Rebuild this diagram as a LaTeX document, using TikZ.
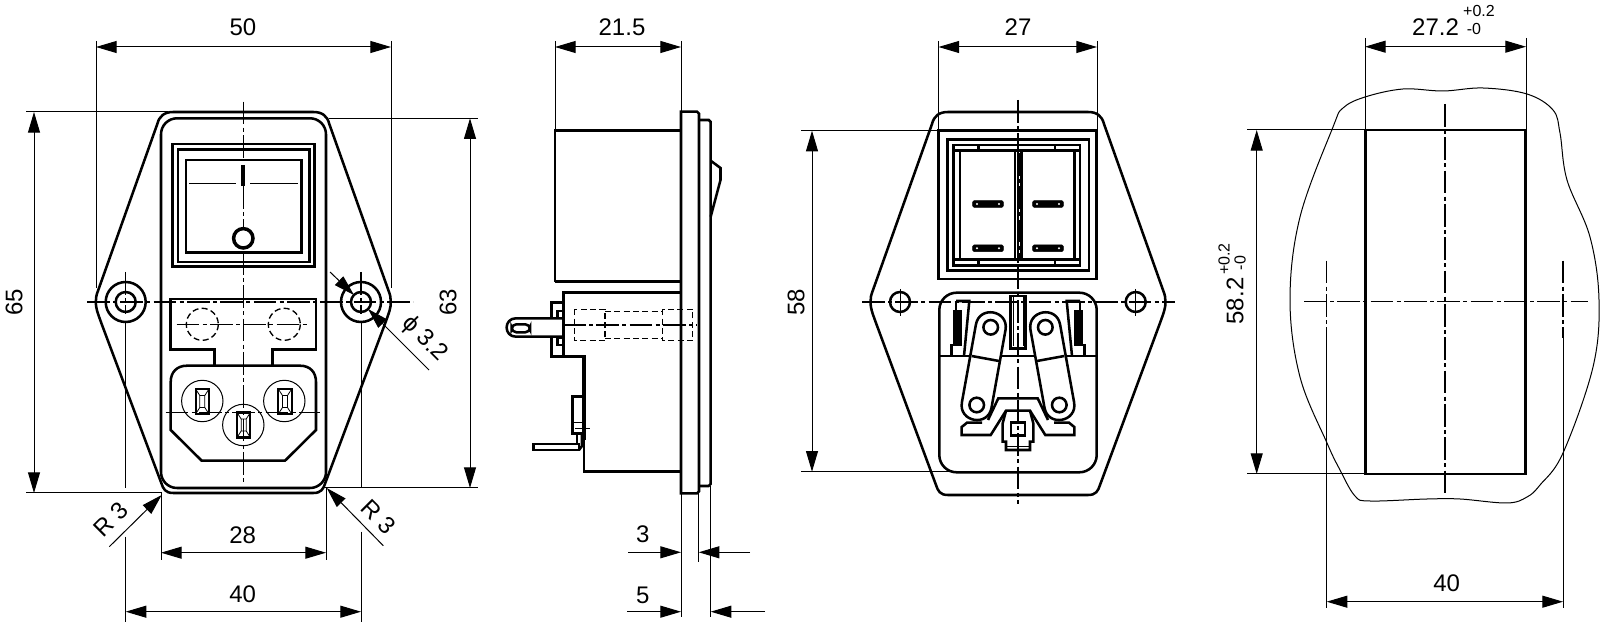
\documentclass[tikz,border=0pt]{standalone}
\usepackage{fontspec}
\setmainfont{Liberation Sans}
\usetikzlibrary{arrows.meta}
\tikzset{
  outl/.style={line width=1.9pt,line join=miter},
  thinl/.style={line width=0.75pt},
  hairl/.style={line width=0.6pt},
  cline/.style={line width=0.8pt,dash pattern=on 17pt off 2.5pt on 3pt off 2.5pt},
  hidl/.style={line width=1pt,dash pattern=on 4.5pt off 2.5pt},
  dimboth/.style={thinl,{Triangle[length=15.5pt,width=9pt]}-{Triangle[length=15.5pt,width=9pt]}},
  dimone/.style={thinl,-{Triangle[length=15.5pt,width=9pt]}},
  dimtxt/.style={inner sep=0pt,font=\fontsize{18}{20}\selectfont},
  toltxt/.style={inner sep=0pt,font=\fontsize{12}{14}\selectfont},
}
% flange outline: centre x, bottom y
\newcommand{\flange}[2]{
  \draw [outl,shift={(#1,0)}] (-70,112) -- (70,112) .. controls (79,112) and (84,116) .. (86,124) -- (145,290)
    .. controls (147,295) and (147.5,298) .. (147.5,302) .. controls (147.5,308) and (146,312) .. (142,323)
    -- (82,#2-10) .. controls (80,#2-4) and (78,#2) .. (70,#2) -- (-70,#2)
    .. controls (-78,#2) and (-80,#2-4) .. (-82,#2-10) -- (-142,323)
    .. controls (-146,312) and (-147.5,308) .. (-147.5,302) .. controls (-147.5,298) and (-147,295) .. (-145,290)
    -- (-86,124) .. controls (-84,116) and (-79,112) .. (-70,112) -- cycle;
}
% socket pin
\newcommand{\socketpin}[2]{
  \draw [line width=1.6pt,shift={(#1,#2)}] (-6.7,-12.5) rectangle (6.7,12.5);
  \draw [hairl,shift={(#1,#2)}] (-6.7,-12.5) -- (-2.5,-6) -- (-2.5,6) -- (-6.7,12.5) (6.7,-12.5) -- (2.5,-6) -- (2.5,6) -- (6.7,12.5) (-2.5,-6) -- (2.5,-6) (-2.5,6) -- (2.5,6);
}
\begin{document}
\begin{tikzpicture}[x=0.75pt,y=0.75pt,yscale=-1,xscale=1]
\useasboundingbox (0,0) rectangle (1600,641);

%Front view
\flange{243.3}{493}
\draw [outl,rounded corners=12pt] (161,118.3) rectangle (326,488);
\draw [outl] (172.3,144) rectangle (314.3,266.7);
\draw [outl] (178,149.3) rectangle (309.3,262);
\draw [outl] (186,160) rectangle (301.3,252.3);
\draw [line width=3pt] (243.3,165) -- (243.3,186);
\draw [thinl] (189,184) -- (236,184) (250,184) -- (298,184);
\draw [line width=2.6pt] (243.3,238.3) circle (9.7);
\foreach \hx in {125.7,361} {
  \draw [outl] (\hx,302) circle (20);
  \draw [outl] (\hx,302) circle (10);
  \draw [cline] (\hx,272) -- (\hx,314);
  \draw [thinl] (\hx,323) -- (\hx,488);
}
\draw [cline] (87,302) -- (413,302);
\draw [cline] (243.3,101.7) -- (243.3,160);
\draw [cline] (243.3,186) -- (243.3,227);
\draw [cline] (243.3,252) -- (243.3,483);
% fuse holder
\draw [outl] (214.3,365.7) -- (214.3,349.3) -- (170.7,349.3) -- (170.7,299) -- (316,299) -- (316,349.3) -- (272.3,349.3) -- (272.3,365.7);
\draw [hidl] (202.3,324.3) circle (16);
\draw [hidl] (284.3,324.3) circle (16);
\draw [cline] (176.7,324.3) -- (309,324.3);
% socket
\draw [outl] (201.7,460.7) -- (170.7,430) -- (170.7,382) .. controls (170.7,372) and (177,365.7) .. (187,365.7) -- (300,365.7)
  .. controls (310,365.7) and (316,372) .. (316,382) -- (316,430) -- (285,460.7) -- cycle;
\draw [thinl] (202.3,401) circle (20.7) (284.3,401) circle (20.7) (243.3,425) circle (20.7);
\socketpin{202.3}{401.5}
\socketpin{243.7}{425}
\socketpin{285}{401.5}
\draw [cline] (165.7,412.7) -- (320,412.7);

%Front view dimensions
\draw [thinl] (96,41) -- (96,288) (391,41) -- (391,288);
\draw [dimboth] (96,47) -- (391,47);
\node [dimtxt] (lab50) at (243,27.5) {50};
\draw [thinl] (26,111.7) -- (168,111.7) (26,493) -- (162,493);
\draw [dimboth] (34,112) -- (34,493);
\node [dimtxt,rotate=90] (lab65) at (14,302) {65};
\draw [thinl] (329,118.3) -- (478,118.3) (325,488) -- (478,488);
\draw [dimboth] (470,118.3) -- (470,488);
\node [dimtxt,rotate=90] (lab63) at (448,302) {63};
\draw [thinl] (161,493) -- (161,560) (326,488) -- (326,560);
\draw [dimboth] (161,552.7) -- (326,552.7);
\node [dimtxt] (lab28) at (242.7,535) {28};
\draw [thinl] (125.7,536.7) -- (125.7,621.7) (361,531.7) -- (361,621.7);
\draw [dimboth] (125.7,611.7) -- (361,611.7);
\node [dimtxt] (lab40a) at (242.7,594) {40};
\draw [dimone] (109.3,546.7) -- (161.7,495);
\node [dimtxt,rotate=45] (labr3a) at (110.7,519.3) {R 3};
\draw [dimone] (383.3,545.7) -- (326.7,488);
\node [dimtxt,rotate=-45] (labr3b) at (378.3,516.7) {R 3};
\draw [dimone] (330,272) -- (354,295);
\draw [dimone] (429,370) -- (368,309);
\node [dimtxt,rotate=-45] (labphi) at (424.6,339) {ϕ 3.2};

%Side view
\draw [outl] (555,281.7) -- (555,130.7) -- (681,130.7) (555,281.7) -- (681,281.7);
\draw [outl] (681,493.3) -- (681,111.7) -- (697,111.7) -- (699,113.7) -- (699,491.3) -- (697,493.3) -- cycle;
\draw [outl] (699,120) -- (708.7,120) -- (710.7,122) -- (710.7,484) -- (708.7,486) -- (699,486);
\draw [outl] (710.7,160.7) -- (720.5,168) -- (720.5,180) -- (710.7,216.7);
\draw [outl] (681,292.3) -- (563.3,292.3) -- (563.3,356.7);
\draw [line width=2.6pt] (561,356.7) -- (584,356.7) -- (584,440);
\draw [outl] (584,440) -- (584,471.7) -- (681,471.7);
% terminal
\draw [outl] (563,318.3) -- (516,318.3) .. controls (503.5,318.3) and (503.5,336.7) .. (516,336.7) -- (563,336.7);
\draw [outl,rounded corners=3.5pt] (511.7,324.3) rectangle (530,332.3);
\draw [outl] (563,302.7) -- (551.7,302.7) -- (551.7,318.3) (551.7,336.7) -- (551.7,356.7) -- (563,356.7);
\draw [outl] (557.7,311) rectangle (563,318);
\draw [outl] (557.7,338) rectangle (563,345);
% fuse
\draw [hidl] (574.3,309.3) rectangle (605,340.7);
\draw [hidl] (662.3,309.3) rectangle (692.7,340.7);
\draw [hidl] (605,311.7) -- (662.3,311.7) (605,338.3) -- (662.3,338.3);
\draw [cline] (563,325) -- (696.7,325);
% lower tab
\draw [outl] (584,396.7) -- (572.3,396.7) -- (572.3,433.3) -- (584,433.3);
\draw [thinl] (572.3,422.7) -- (584,422.7) (575,429) -- (590,429);
\draw [outl] (533.3,444) rectangle (579,450);
\draw [outl] (579,450) -- (582,446) -- (582,433);
\draw [outl] (577,444) -- (577,433);

%Side view dimensions
\draw [thinl] (555,41) -- (555,130) (681,41) -- (681,111);
\draw [dimboth] (555,47) -- (681,47);
\node [dimtxt] (lab215) at (622,27.5) {21.5};
\draw [thinl] (681,493) -- (681,617) (698.7,493) -- (698.7,562) (710.7,486) -- (710.7,617);
\draw [dimone] (628,552.3) -- (681,552.3);
\draw [dimone] (750,552.3) -- (698.7,552.3);
\node [dimtxt] (lab3) at (642.7,534) {3};
\draw [dimone] (627,611.7) -- (681,611.7);
\draw [dimone] (765,611.7) -- (710.7,611.7);
\node [dimtxt] (lab5) at (642.7,595) {5};

%Rear view
\flange{1018}{495}
\draw [outl] (938.3,130.7) rectangle (1096.7,279);
\draw [outl] (947.7,139.3) rectangle (1089,270.7);
\draw [outl] (953.3,145) rectangle (1080,265.7);
\draw [outl] (960,150.7) rectangle (1074.3,259.3);
\foreach \tx in {953.3,1055} {
  \draw [outl] (\tx,145) rectangle (\tx+25,150.7);
  \draw [outl] (\tx,259.3) rectangle (\tx+25,265.7);
}
\draw [outl] (1015,150.7) -- (1015,259.3) (1021.7,150.7) -- (1021.7,259.3);
\draw [line width=2.4pt,dash pattern=on 17pt off 2.5pt on 3pt off 2.5pt] (1018.3,153) -- (1018.3,258);
\foreach \cx in {988,1048} {
  \foreach \cy in {204,248.3} {
    \draw [fill=black,rounded corners=1pt] (\cx-15.3,\cy-3.3) rectangle (\cx+15.3,\cy+3.3);
    \fill [white] (\cx-11,\cy) circle (1.1) (\cx+11,\cy) circle (1.1);
  }
}
\draw [outl,rounded corners=13pt] (939.3,292.7) rectangle (1096.7,472.3);
\draw [outl] (939.3,356) -- (1096.7,356);
\draw [outl] (900,302) circle (10) (1135.7,302) circle (10);
\draw [thinl] (900,289) -- (900,316) (1135.7,289) -- (1135.7,316);
\foreach \s in {-1,1} {
  \begin{scope}[shift={(1018,0)},xscale=\s]
  % contact blade
  \draw [outl] (62,301) -- (48.7,301) -- (54,356);
  \draw [outl] (62,301) -- (62,310);
  \draw [fill=black] (56.5,310) rectangle (64.5,345);
  \draw [outl] (56.5,345) -- (66.3,345) -- (66.3,356);
  % lever
  \draw [outl,fill=white] (12.5,330) .. controls (9,310.3) and (38.6,304.9) .. (42.1,324.6) -- (56.1,402.3)
    .. controls (59.6,422) and (30,427.4) .. (26.5,407.7) -- cycle;
  \draw [outl] (27.3,327.3) circle (7.3) (41.3,405) circle (7.3);
  \draw [outl] (46.3,356) -- (19,361);
  % latch bracket
  \draw [outl] (0,398.3) -- (19.7,398.3) -- (30,420);
  \draw [outl] (0,410.7) -- (12,410.7) -- (27.3,435) -- (56.3,435) -- (56.3,427) -- (51,422.7) -- (36,422.7);
  \draw [outl] (12,410.7) -- (15.3,423.3) -- (15.3,441.7) -- (12,441.7) -- (12,450) -- (0,450);
  \draw [thinl] (0,447) -- (12,447);
  \draw [outl] (0,296) -- (7.3,296) -- (7.3,348.3) -- (0,348.3);
  \draw [thinl] (5,296) -- (5,346);
  \draw [outl] (0,422.3) -- (7,422.3) -- (7,435.7) -- (0,435.7);
  \end{scope}
}
\draw [cline] (862,302) -- (1175,302);
\draw [cline] (1018,100) -- (1018,504);

%Rear view dimensions
\draw [thinl] (938.5,41) -- (938.5,130) (1097,41) -- (1097,130);
\draw [dimboth] (938.5,47) -- (1097,47);
\node [dimtxt] (lab27) at (1018,27.5) {27};
\draw [thinl] (801,130.7) -- (938,130.7) (801,471.7) -- (953,471.7);
\draw [dimboth] (812,130.7) -- (812,471.7);
\node [dimtxt,rotate=90] (lab58) at (796,302) {58};

%Cut-out
\draw [thinl] plot [smooth cycle,tension=0.6] coordinates {(1333,127) (1343,108) (1365,97) (1403,89) (1443,91) (1483,88) (1527,94) (1553,110) (1560,133) (1567,180) (1590,237) (1599,300) (1593,367) (1563,453) (1540,485) (1527,497) (1507,503) (1460,499) (1427,499) (1370,501) (1355,496) (1340,470) (1327,443) (1300,377) (1290,300) (1300,217)};
\draw [outl] (1365.3,473.8) -- (1365.3,130) -- (1525.7,130) -- (1525.7,473.8) -- cycle;
\draw [cline] (1445,104) -- (1445,493);
\draw [cline] (1304,301.7) -- (1588,301.7);
\draw [cline] (1326.7,260.7) -- (1326.7,338);
\draw [cline] (1563,260.7) -- (1563,338);
\draw [thinl] (1326.7,338) -- (1326.7,608) (1563,338) -- (1563,608);
\draw [dimboth] (1326.7,601.7) -- (1563,601.7);
\node [dimtxt] (lab40b) at (1446.7,583) {40};
\draw [thinl] (1365,38) -- (1365,130) (1526,38) -- (1526,130);
\draw [dimboth] (1365,46.7) -- (1526,46.7);
\node [dimtxt] (lab272) at (1435.5,26.7) {27.2};
\node [toltxt] (lab272p) at (1479,10.7) {+0.2};
\node [toltxt] (lab272m) at (1474,29) {-0};
\draw [thinl] (1247,130) -- (1365,130) (1247,474) -- (1365,474);
\draw [dimboth] (1256.7,130) -- (1256.7,474);
\node [dimtxt,rotate=90] (lab582) at (1235,301) {58.2};
\node [toltxt,rotate=90] (lab582p) at (1224,259) {+0.2};
\node [toltxt,rotate=90] (lab582m) at (1240,263) {-0};
\end{tikzpicture}
\end{document}
